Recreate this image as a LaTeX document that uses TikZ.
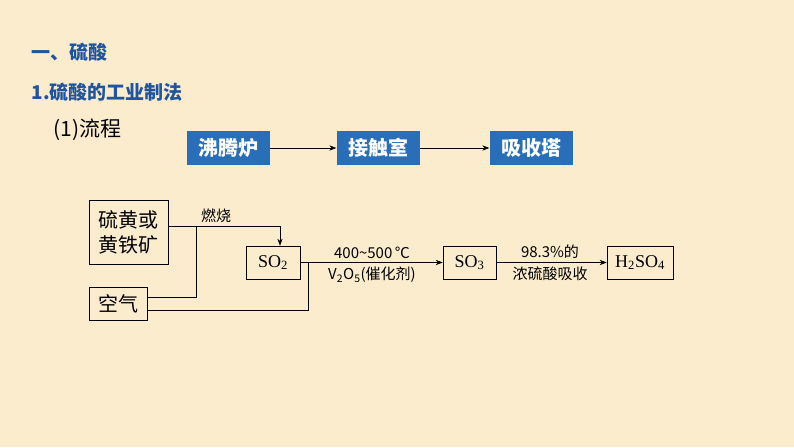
\documentclass[tikz,border=0pt]{standalone}
\usepackage{fontspec}
\newfontfamily\cjk{Noto Sans CJK SC}
\setmainfont{Liberation Serif}
\usetikzlibrary{arrows.meta, positioning}
\definecolor{paper}{RGB}{251,236,206}
\definecolor{titleblue}{RGB}{31,84,160}
\definecolor{stepblue}{RGB}{40,110,185}

\begin{document}
\begin{tikzpicture}[
    x=1pt, y=-1pt,
    stage/.style={rectangle, fill=stepblue, text=white, minimum width=83pt, minimum height=34pt,
                  font=\cjk\fontsize{20}{20}\selectfont\bfseries, inner sep=0pt},
    chem/.style={rectangle, draw, line width=0.6pt, align=center, inner sep=2pt,
                 font=\cjk\fontsize{20}{25}\selectfont},
    formula/.style={rectangle, draw, line width=0.6pt, minimum height=33pt, inner sep=2pt,
                    font=\fontsize{18}{18}\selectfont},
    cond/.style={font=\cjk\fontsize{15}{15}\selectfont, inner sep=1pt},
    flow/.style={-{Stealth[length=7pt]}, line width=0.6pt}
]
\fill[paper] (0,0) rectangle (794,447);
\useasboundingbox (0,0) rectangle (794,447);

% headings
\node[anchor=west, text=titleblue, font=\cjk\fontsize{19}{19}\selectfont\bfseries] (h1) at (28,52) {一、硫酸};
\node[anchor=west, text=titleblue, font=\cjk\fontsize{19}{19}\selectfont\bfseries] (h2) at (28,92) {1.硫酸的工业制法};
\node[anchor=west, font=\cjk\fontsize{21}{21}\selectfont] (h3) at (50,130) {(1)流程};

% equipment
\node[stage] (furnace) at (228,148) {沸腾炉};
\node[stage] (contact) at (378,148) {接触室};
\node[stage] (tower) at (531,148) {吸收塔};
\draw[flow] (furnace) -- (contact);
\draw[flow] (contact) -- (tower);

% process
\node[chem, minimum width=79pt, minimum height=64pt] (ore) at (128.5,232) {硫黄或\\黄铁矿};
\node[chem, minimum width=58pt, minimum height=33pt] (air) at (118,303.5) {空气};
\node[formula, minimum width=54pt] (so2) at (273,262.5) {SO\textsubscript{2}};
\node[formula, minimum width=53pt] (so3) at (469.5,262.5) {SO\textsubscript{3}};
\node[formula, minimum width=66pt] (acid) at (640,262.5) {H\textsubscript{2}SO\textsubscript{4}};

\coordinate (burnpt) at (280,226);
\coordinate (joinA) at (196,226);
\coordinate (joinB) at (308,263);
\draw[line width=0.6pt] (ore.east |- burnpt) -- (burnpt);
\draw[flow] (burnpt) -- (so2.north -| burnpt);
\draw[line width=0.6pt] (joinA) -- (196,297) -- (air.east |- 0,297);
\draw[line width=0.6pt] (air.east |- 0,310) -- (308,310) -- (joinB);
\node[cond, anchor=south] (burn) at (216,224) {燃烧};

\draw[flow] (so2) -- (so3);
\node[cond, anchor=south] at (372,260) {400\textasciitilde 500\,℃};
\node[cond, anchor=north] at (372,266) {V\textsubscript{2}O\textsubscript{5}(催化剂)};
\draw[flow] (so3) -- (acid);
\node[cond, anchor=south] at (550,260) {98.3\%的};
\node[cond, anchor=north] at (550,266) {浓硫酸吸收};
\end{tikzpicture}
\end{document}
